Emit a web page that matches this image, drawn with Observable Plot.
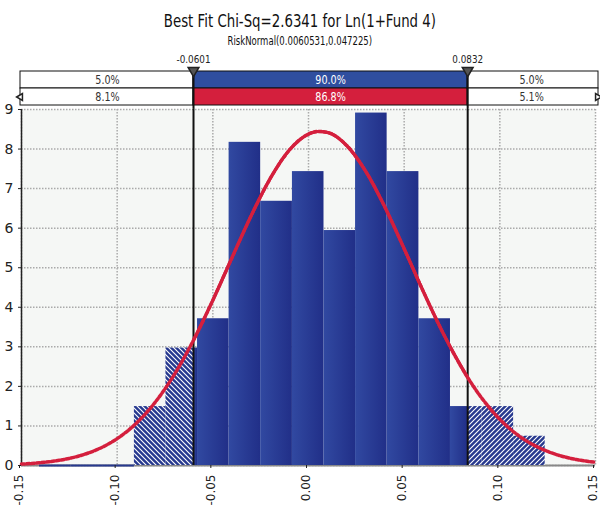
<!DOCTYPE html>
<html><head><meta charset="utf-8">
<script src="https://cdn.jsdelivr.net/npm/d3@7"></script>
<script src="https://cdn.jsdelivr.net/npm/@observablehq/plot@0.6"></script>
<style>
body{margin:0;background:#fff;}
#wrap{width:600px;}
#title{font-family:"DejaVu Sans",sans-serif;font-size:18px;color:#111;text-align:center;height:33px;line-height:41px;white-space:nowrap;}
#subtitle{font-family:"DejaVu Sans",sans-serif;font-size:12px;color:#111;text-align:center;height:17px;line-height:17px;white-space:nowrap;}
#title span,#subtitle span{display:inline-block;transform-origin:50% 50%;}
#title span{transform:scaleX(0.74);}
#subtitle span{transform:scaleX(0.71);}
svg{display:block;}
</style></head>
<body><div id="wrap"><div id="title"><span></span></div><div id="subtitle"><span></span></div></div>
<script>
// ---- data ----
const titleText = "Best Fit Chi-Sq=2.6341 for Ln(1+Fund 4)";
const subtitleText = "RiskNormal(0.0060531,0.047225)";
const binEdges = [-0.1406,-0.1241,-0.1076,-0.0910,-0.0745,-0.0580,-0.0415,-0.0250,-0.0084,0.0081,0.0246,0.0411,0.0577,0.0742,0.0907,0.1072,0.1237];
const density = [0,0,0,1.49,2.97,3.71,8.17,6.68,7.43,5.94,8.91,7.43,3.71,1.49,1.49,0.74];
const curveX = [-0.15,-0.14,-0.13,-0.12,-0.11,-0.10,-0.09,-0.08,-0.07,-0.0601,-0.05,-0.04,-0.03,-0.02,-0.01,0,0.005,0.01,0.02,0.03,0.04,0.05,0.06,0.07,0.0832,0.09,0.10,0.11,0.12,0.13,0.14,0.15];
const curveY = [0.036,0.071,0.133,0.240,0.413,0.679,1.068,1.606,2.310,3.168,4.177,5.252,6.313,7.256,7.974,8.379,8.446,8.419,8.087,7.429,6.525,5.479,4.399,3.378,2.224,1.740,1.168,0.749,0.460,0.270,0.151,0.081];
const thresholds = [-0.0601, 0.0832];
const thresholdLabels = ["-0.0601", "0.0832"];
const rows = ["Input", "Fit"];
const inputPct = ["5.0%", "90.0%", "5.0%"];
const fitPct = ["8.1%", "86.8%", "5.1%"];
const xDomain = [-0.15, 0.15];
const yDomain = [0, 9];
const xTicks = [-0.15,-0.10,-0.05,0,0.05,0.10,0.15];
const xTickLabels = ["-0.15","-0.10","-0.05","0.00","0.05","0.10","0.15"];
const yTicks = [0,1,2,3,4,5,6,7,8,9];

// ---- styles ----
const BLUE = "#27398f", HDR_BLUE = "#2f4e9f", RED = "#d41f3d";
const FONT = "DejaVu Sans, sans-serif";

document.querySelector("#title span").textContent = titleText;
document.querySelector("#subtitle span").textContent = subtitleText;

// ---- derived ----
const regions = [[-Infinity, thresholds[0], "left"], [thresholds[0], thresholds[1], "mid"], [thresholds[1], Infinity, "right"]];
const pieces = [];
density.forEach((v, i) => {
  const a = binEdges[i], b = binEdges[i + 1];
  for (const [lo, hi, r] of regions) {
    const x1 = Math.max(a, lo), x2 = Math.min(b, hi);
    if (x2 > x1 && v > 0) pieces.push({x1, x2, y: v, region: r});
  }
});
const zeroBins = density.map((v, i) => ({x1: binEdges[i], x2: binEdges[i + 1], v})).filter(d => d.v === 0);
const curve = curveX.map((x, i) => ({x, y: curveY[i]}));
const curveMid = curve.filter(d => d.x >= thresholds[0] && d.x <= thresholds[1]);

const cols = [[xDomain[0], thresholds[0]], [thresholds[0], thresholds[1]], [thresholds[1], xDomain[1]]];
const bands = [];
rows.forEach((row, r) => {
  const labels = r === 0 ? inputPct : fitPct;
  cols.forEach(([x1, x2], c) => bands.push({row, x1, x2, label: labels[c], col: c,
    fill: c === 1 ? (r === 0 ? HDR_BLUE : RED) : "white",
    color: c === 1 ? "white" : "#333"}));
});

const defs = () => {
  const d = d3.create("svg:defs");
  const g = d.append("linearGradient").attr("id", "barGrad").attr("x1", 0).attr("x2", 1).attr("y1", 0).attr("y2", 0);
  g.append("stop").attr("offset", "0%").attr("stop-color", "#3149a1");
  g.append("stop").attr("offset", "100%").attr("stop-color", "#212f88");
  const mk = (id, path) => {
    const p = d.append("pattern").attr("id", id).attr("patternUnits", "userSpaceOnUse").attr("width", 5).attr("height", 5);
    p.append("rect").attr("width", 5).attr("height", 5).attr("fill", BLUE);
    p.append("path").attr("d", path).attr("stroke", "white").attr("stroke-width", 1.1);
  };
  mk("hatchL", "M0,0L5,5M-1,4L1,6M4,-1L6,1");
  mk("hatchR", "M0,5L5,0M-1,1L1,-1M4,6L6,4");
  return d.node();
};

const header = Plot.plot({
  width: 600, height: 59, marginLeft: 21, marginRight: 5, marginTop: 21, marginBottom: 4,
  style: {overflow: "visible", background: "white", fontFamily: FONT},
  x: {domain: xDomain, axis: null},
  y: {domain: rows, padding: 0, axis: null},
  marks: [
    Plot.barX(bands.filter(d => d.col === 0), {x1: "x1", x2: "x2", y: "row", fill: d => d.fill, stroke: "#111", strokeWidth: 1, insetLeft: -1}),
    Plot.barX(bands.filter(d => d.col === 1), {x1: "x1", x2: "x2", y: "row", fill: d => d.fill, stroke: "#111", strokeWidth: 1}),
    Plot.barX(bands.filter(d => d.col === 2), {x1: "x1", x2: "x2", y: "row", fill: d => d.fill, stroke: "#111", strokeWidth: 1, insetRight: -3}),
    Plot.text(bands, {x: d => (d.x1 + d.x2) / 2, y: "row", text: "label", fill: d => d.color, fontSize: 12, className: "cond"}),
    Plot.ruleX(thresholds, {stroke: "#111", strokeWidth: 2, insetBottom: -4}),
    Plot.dot(thresholds, {x: d => d, frameAnchor: "top", dy: -1, symbol: "triangle", rotate: 180, r: 4, fill: "#555", stroke: "#222"}),
    Plot.text(thresholdLabels, {x: (d, i) => thresholds[i], frameAnchor: "top", dy: -16, text: d => d, fontSize: 11, fill: "#222", className: "cond"}),
    Plot.dot([xDomain[0]], {x: d => d, y: () => rows[1], symbol: "triangle", rotate: -90, r: 2.5, fill: "white", stroke: "#222", dx: -1}),
    Plot.dot([xDomain[1]], {x: d => d, y: () => rows[1], symbol: "triangle", rotate: 90, r: 2.5, fill: "white", stroke: "#222", dx: 2})
  ]
});

const main = Plot.plot({
  width: 600, height: 397, marginLeft: 21, marginRight: 5, marginTop: 0, marginBottom: 41,
  style: {overflow: "visible", background: "white", fontFamily: FONT},
  x: {domain: xDomain, axis: null},
  y: {domain: yDomain, axis: null},
  marks: [
    defs,
    Plot.frame({fill: "#f5f7f5"}),
    Plot.gridX(xTicks, {stroke: "#aaa", strokeOpacity: 1, strokeWidth: 1.5, strokeDasharray: "1.5,1.5"}),
    Plot.gridY(yTicks, {stroke: "#aaa", strokeOpacity: 1, strokeWidth: 1.5, strokeDasharray: "1.5,1.5"}),
    Plot.ruleY([0], {stroke: "#888", strokeWidth: 2}),
    Plot.ruleY(zeroBins, {x1: "x1", x2: "x2", y: 0, stroke: BLUE, strokeWidth: 2}),
    Plot.rectY(pieces.filter(d => d.region === "left"), {x1: "x1", x2: "x2", y: "y", fill: "url(#hatchL)"}),
    Plot.rectY(pieces.filter(d => d.region === "mid"), {x1: "x1", x2: "x2", y: "y", fill: "url(#barGrad)"}),
    Plot.rectY(pieces.filter(d => d.region === "right"), {x1: "x1", x2: "x2", y: "y", fill: "url(#hatchR)"}),
    Plot.ruleX([xDomain[0]], {stroke: "#222", strokeWidth: 1.5}),
    Plot.ruleX(thresholds, {stroke: "#111", strokeWidth: 2}),
    Plot.line(curve, {x: "x", y: "y", stroke: RED, strokeWidth: 3.5, strokeDasharray: "3,2", curve: "monotone-x"}),
    Plot.line(curveMid, {x: "x", y: "y", stroke: RED, strokeWidth: 3, curve: "monotone-x"}),
    Plot.axisY(yTicks, {tickSize: 3, tickPadding: 5, fontSize: 14, fill: "#222", stroke: "#222", label: null}),
    Plot.axisX(xTicks, {tickSize: 3, tickPadding: 6, tickRotate: -90, fontSize: 12, dx: -2, fill: "#222", stroke: "#222", label: null,
      tickFormat: d => xTickLabels[xTicks.indexOf(d)]})
  ]
});

const wrap = document.getElementById("wrap");
wrap.appendChild(header);
wrap.appendChild(main);
// condensed look for header labels (reference uses a narrow face)
header.querySelectorAll(".cond text").forEach(t => {
  const w = t.getComputedTextLength();
  t.setAttribute("textLength", (w * 0.8).toFixed(1));
  t.setAttribute("lengthAdjust", "spacingAndGlyphs");
});
</script></body></html>
